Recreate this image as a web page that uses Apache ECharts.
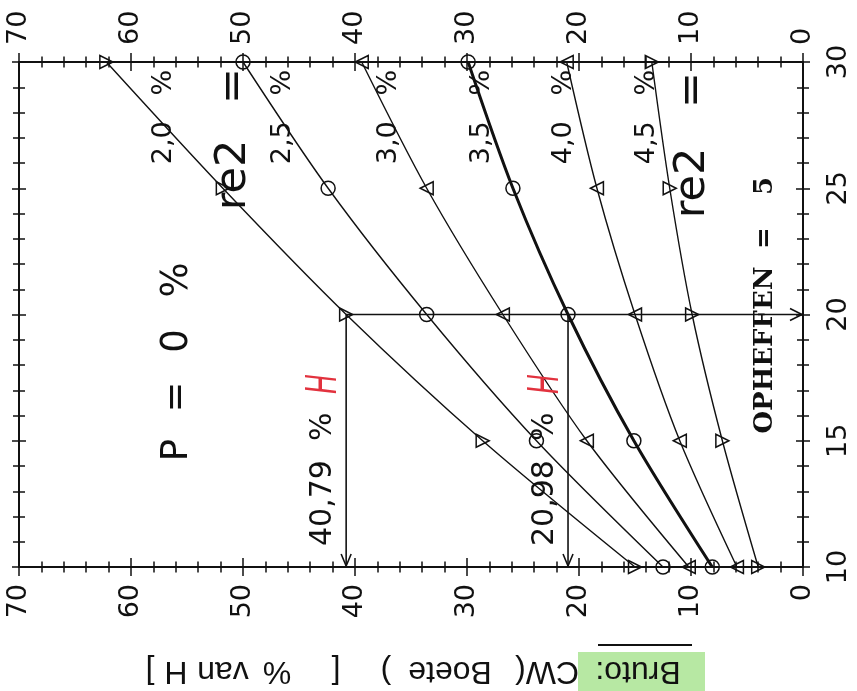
<!DOCTYPE html>
<html>
<head>
<meta charset="utf-8">
<script src="https://cdn.jsdelivr.net/npm/echarts@6/dist/echarts.min.js"></script>
<style>
  html, body { margin: 0; padding: 0; background: #fff; }
  #chart { width: 857px; height: 691px; }
</style>
</head>
<body>
<div id="chart"></div>
<script>
// Opheffen (vertical, 10..30) against gross CW penalty in % van H (horizontal, 70 at left .. 0 at right)
const opheffen = [10, 15, 20, 25, 30];
const cw20 = [15.0, 28.6, 40.79, 51.8, 62.2];
const cw25 = [12.5, 23.8, 33.6, 42.4, 50.0];
const cw30 = [10.2, 19.3, 26.8, 33.6, 39.4];
const cw35 = [8.1, 15.1, 20.98, 25.9, 29.9];
const cw40 = [5.9, 11.0, 15.0, 18.4, 21.1];
const cw45 = [4.0, 7.2, 9.9, 11.9, 13.5];
const rateLabels = ['2,0 %', '2,5 %', '3,0 %', '3,5 %', '4,0 %', '4,5 %'];
const cwRange = [0, 70];
const opRange = [10, 30];
// read-off at opheffen = 20 for the 2,0 % and 3,5 % curves
const readOpheffen = 20;
const readCW = [cw20[2], cw35[2]];

const INK = '#111';
const SANS = '"DejaVu Sans", sans-serif';

const curves = [
  { name: rateLabels[0], data: cw20, symbol: 'triangle', rot: -90, width: 1.4 },
  { name: rateLabels[1], data: cw25, symbol: 'circle', rot: 0, width: 1.4 },
  { name: rateLabels[2], data: cw30, symbol: 'triangle', rot: 90, width: 1.4 },
  { name: rateLabels[3], data: cw35, symbol: 'circle', rot: 0, width: 3 },
  { name: rateLabels[4], data: cw40, symbol: 'triangle', rot: 90, width: 1.4 },
  { name: rateLabels[5], data: cw45, symbol: 'triangle', rot: -90, width: 1.4 }
];

// top labels need the opposite sign to read bottom-to-top like the others
function xAxisDef(position, inside, labels) {
  return {
    type: 'value', position, min: cwRange[0], max: cwRange[1], interval: 10, inverse: true,
    splitLine: { show: false },
    axisLine: { show: true, onZero: false, lineStyle: { color: INK, width: 2 } },
    axisTick: { show: true, inside, length: 9, lineStyle: { color: INK, width: 1.5 } },
    minorTick: { show: true, splitNumber: 5, length: 5.5, lineStyle: { color: INK, width: 1.5 } },
    axisLabel: { show: labels, rotate: position === 'top' ? -90 : 90, margin: 17, fontFamily: SANS, fontSize: 27, color: INK }
  };
}
function yAxisDef(position, inside, labels) {
  return {
    type: 'value', position, min: opRange[0], max: opRange[1], interval: 5,
    splitLine: { show: false },
    axisLine: { show: true, onZero: false, lineStyle: { color: INK, width: 2 } },
    axisTick: { show: true, inside, length: 7, lineStyle: { color: INK, width: 1.5 } },
    minorTick: { show: true, splitNumber: 5, length: 6, lineStyle: { color: INK, width: 1.5 } },
    axisLabel: { show: labels, rotate: 90, margin: 22, fontFamily: SANS, fontSize: 27, color: INK }
  };
}

const fmt = v => v.toFixed(2).replace('.', ',');

function vtext(text, x, y, size, o = {}) {
  return {
    type: 'text', x, y, rotation: o.rot !== undefined ? o.rot : Math.PI / 2,
    scaleX: o.sx || 1, z: 20,
    style: {
      text, fill: o.color || INK,
      font: (o.weight || 'normal') + ' ' + size + 'px ' + (o.family || SANS),
      align: o.align || 'center', verticalAlign: o.va || 'middle'
    }
  };
}

const lineSeries = curves.map(c => ({
  type: 'line', name: c.name, xAxisIndex: 0, yAxisIndex: 0,
  data: c.data.map((v, i) => [v, opheffen[i]]),
  smooth: 0.3, symbol: c.symbol, symbolRotate: c.rot,
  symbolSize: c.symbol === 'circle' ? 14 : 13, showAllSymbol: true,
  lineStyle: { color: INK, width: c.width },
  itemStyle: { color: 'rgba(0,0,0,0)', borderColor: INK, borderWidth: 1.5 },
  silent: true, animation: false, z: 3
}));

const guideSeries = {
  type: 'custom', xAxisIndex: 0, yAxisIndex: 0, silent: true, animation: false, z: 4,
  encode: { x: 0, y: 1 },
  data: readCW.map(v => [v, readOpheffen]),
  renderItem(params, api) {
    const cw = api.value(0), op = api.value(1);
    const p = api.coord([cw, op]);
    const base = api.coord([cw, opRange[0]]);
    const st = { stroke: INK, lineWidth: 1.6, fill: null };
    const children = [
      { type: 'line', shape: { x1: p[0], y1: p[1], x2: base[0], y2: base[1] - 1 }, style: st },
      { type: 'polyline', shape: { points: [[base[0] - 5, base[1] - 13], [base[0], base[1] - 1], [base[0] + 5, base[1] - 13]] }, style: st },
      { type: 'text', x: p[0] - 8, y: base[1] - 21, rotation: Math.PI / 2,
        style: { text: fmt(cw) + '  %', fill: INK, font: '30px ' + SANS, align: 'left', verticalAlign: 'bottom' } },
      { type: 'text', x: p[0] - 22, y: p[1] + 70, rotation: Math.PI / 2, scaleX: 0.6,
        style: { text: 'H', fill: '#e2323e', font: 'italic 44px "Liberation Sans", sans-serif', align: 'center', verticalAlign: 'middle' } }
    ];
    if (params.dataIndex === 0) {
      const end = api.coord([cwRange[0], op]);
      children.push(
        { type: 'line', shape: { x1: p[0], y1: p[1], x2: end[0] - 1, y2: end[1] }, style: st },
        { type: 'polyline', shape: { points: [[end[0] - 13, end[1] - 6], [end[0] - 1, end[1]], [end[0] - 13, end[1] + 6]] }, style: st }
      );
    }
    return { type: 'group', children };
  }
};

// annotation texts
const rateX = [164, 283, 389, 482, 564, 647];
const graphics = [];
rateLabels.forEach((t, i) => graphics.push(vtext(t.replace(' ', '   '), rateX[i], 117, 27)));
// P = 0 %
[['P', 450], ['=', 397], ['0', 341], ['%', 280]].forEach(([t, y]) => graphics.push(vtext(t, 177, y, 37)));
// re2 =
[[234, 175, 86], [693, 183, 90]].forEach(([x, yr, ye]) => {
  graphics.push(vtext('re2', x, yr, 43));
  graphics.push(vtext('=', x, ye, 43));
});
// OPHEFFEN = 5
const SERIF = '"DejaVu Serif", serif';
graphics.push(vtext('OPHEFFEN', 765, 350, 26, { family: SERIF, weight: 'bold' }));
graphics.push(vtext('=', 765, 238, 26, { family: SERIF, weight: 'bold' }));
graphics.push(vtext('5', 765, 186, 26, { family: SERIF, weight: 'bold' }));
// horizontal axis title, upside down, with highlighted "Bruto:"
graphics.push({ type: 'rect', shape: { x: 578, y: 652, width: 127, height: 39 }, style: { fill: '#b7e8a3' }, z: 15 });
graphics.push({ type: 'line', shape: { x1: 598, y1: 645, x2: 692, y2: 645 }, style: { stroke: INK, lineWidth: 2 }, z: 15 });
const LSANS = '"Liberation Sans", Arial, sans-serif';
[['Bruto:', 638], ['CW(', 547], ['Boete', 450], [')', 386], ['[', 336], ['%', 277], ['van', 223], ['H', 176], [']', 150]]
  .forEach(([t, x]) => graphics.push(vtext(t, x, 671, 32, { rot: Math.PI, family: LSANS })));

const chart = echarts.init(document.getElementById('chart'), null, { renderer: 'canvas' });
chart.setOption({
  animation: false,
  backgroundColor: '#fff',
  grid: { left: 19, right: 54, top: 62, bottom: 124, containLabel: false },
  xAxis: [
    xAxisDef('bottom', false, true),
    xAxisDef('bottom', true, false),
    xAxisDef('top', false, true),
    xAxisDef('top', true, false)
  ],
  yAxis: [
    yAxisDef('right', false, true),
    yAxisDef('right', true, false),
    yAxisDef('left', false, false),
    yAxisDef('left', true, false)
  ],
  series: [...lineSeries, guideSeries],
  graphic: { elements: graphics }
});
</script>
</body>
</html>
